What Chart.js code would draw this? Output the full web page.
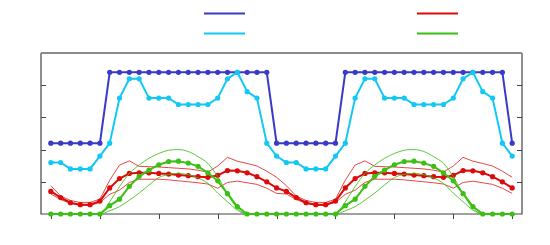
<!DOCTYPE html>
<html>
<head>
<meta charset="utf-8">
<script src="https://cdn.jsdelivr.net/npm/chart.js@4.4.0/dist/chart.umd.min.js"></script>
<style>
  html, body { margin: 0; padding: 0; background: #fff; }
  #wrap { width: 550px; height: 245px; position: relative; }
</style>
</head>
<body>
<div id="wrap"><canvas id="chart"></canvas></div>
<script>
// hours of two days
const hours = [1,2,3,4,5,6,7,8,9,10,11,12,13,14,15,16,17,18,19,20,21,22,23,24,
               25,26,27,28,29,30,31,32,33,34,35,36,37,38,39,40,41,42,43,44,45,46,47,48];
const xTicks = [1, 6, 12, 18, 24, 30, 36, 42, 48];
const yTicks = [1, 2, 3, 4];

const blueValues = [2.2,2.2,2.2,2.2,2.2,2.2,4.4,4.4,4.4,4.4,4.4,4.4,4.4,4.4,4.4,4.4,4.4,4.4,4.4,4.4,4.4,4.4,4.4,2.2,
                    2.2,2.2,2.2,2.2,2.2,2.2,4.4,4.4,4.4,4.4,4.4,4.4,4.4,4.4,4.4,4.4,4.4,4.4,4.4,4.4,4.4,4.4,4.4,2.2];
const cyanValues = [1.6,1.6,1.4,1.4,1.4,1.8,2.2,3.6,4.2,4.2,3.6,3.6,3.6,3.4,3.4,3.4,3.4,3.6,4.2,4.4,3.8,3.6,2.2,1.8,
                    1.6,1.6,1.4,1.4,1.4,1.8,2.2,3.6,4.2,4.2,3.6,3.6,3.6,3.4,3.4,3.4,3.4,3.6,4.2,4.4,3.8,3.6,2.2,1.8];
const redValues = [0.70,0.51,0.35,0.29,0.29,0.40,0.81,1.10,1.26,1.28,1.28,1.26,1.24,1.21,1.19,1.16,1.14,1.20,1.35,1.34,1.28,1.16,1.00,0.81,
                   0.70,0.51,0.35,0.29,0.29,0.40,0.81,1.10,1.26,1.28,1.28,1.26,1.24,1.21,1.19,1.16,1.14,1.20,1.35,1.34,1.28,1.16,1.00,0.81];
const redHigh = [0.88,0.56,0.42,0.36,0.36,0.46,1.05,1.52,1.65,1.48,1.47,1.46,1.44,1.42,1.40,1.36,1.30,1.49,1.76,1.64,1.57,1.49,1.33,1.14,
                 0.88,0.56,0.42,0.36,0.36,0.46,1.05,1.52,1.65,1.48,1.47,1.46,1.44,1.42,1.40,1.36,1.30,1.49,1.76,1.64,1.57,1.49,1.33,1.14];
const redLow = [0.62,0.45,0.33,0.27,0.27,0.36,0.61,0.74,0.98,1.08,1.08,1.08,1.06,1.03,1.00,0.97,0.93,0.80,0.98,1.02,0.97,0.92,0.80,0.64,
                0.62,0.45,0.33,0.27,0.27,0.36,0.61,0.74,0.98,1.08,1.08,1.08,1.06,1.03,1.00,0.97,0.93,0.80,0.98,1.02,0.97,0.92,0.80,0.64];
const greenValues = [0,0,0,0,0,0,0.26,0.46,0.86,1.17,1.36,1.53,1.63,1.64,1.58,1.48,1.28,1.03,0.63,0.23,0,0,0,0,
                     0,0,0,0,0,0,0.26,0.46,0.86,1.17,1.36,1.53,1.63,1.64,1.58,1.48,1.28,1.03,0.63,0.23,0,0,0,0];
const greenHigh = [0,0,0,0,0,0,0.38,0.85,1.26,1.52,1.73,1.88,1.98,2.00,1.94,1.78,1.57,1.16,0.62,0.18,0,0,0,0,
                   0,0,0,0,0,0,0.38,0.85,1.26,1.52,1.73,1.88,1.98,2.00,1.94,1.78,1.57,1.16,0.62,0.18,0,0,0,0];
const greenLow = [0,0,0,0,0,0,0.10,0.23,0.43,0.65,0.90,1.13,1.23,1.26,1.22,1.12,0.95,0.65,0.38,0.12,0,0,0,0,
                  0,0,0,0,0,0,0.10,0.23,0.43,0.65,0.90,1.13,1.23,1.26,1.22,1.12,0.95,0.65,0.38,0.12,0,0,0,0];

const BLUE = '#3a3ac8';
const CYAN = '#12c8f5';
const RED = '#dd0a0a';
const GREEN = '#3cbf14';

function pts(values) {
    return values.map((v, i) => ({ x: hours[i], y: v }));
}

function mainLine(label, values, color, order) {
    return {
        label: label,
        data: pts(values),
        borderColor: color,
        backgroundColor: color,
        borderWidth: 2,
        pointRadius: 2.6,
        pointBorderWidth: 0,
        pointBackgroundColor: color,
        tension: 0,
        clip: false,
        order: order
    };
}

function bandLine(values, color, order, tension) {
    return {
        label: '',
        data: pts(values),
        borderColor: color,
        borderWidth: 1,
        pointRadius: 0,
        tension: tension,
        cubicInterpolationMode: tension ? 'monotone' : 'default',
        clip: false,
        order: order,
        band: true
    };
}

// frame, inward y ticks, outward x ticks
const framePlugin = {
    id: 'frame',
    beforeDatasetsDraw(chart) {
        const ctx = chart.ctx;
        const a = chart.chartArea;
        const xs = chart.scales.x, ys = chart.scales.y;
        ctx.save();
        ctx.strokeStyle = '#444';
        ctx.lineWidth = 1.2;
        ctx.beginPath();
        ctx.moveTo(a.left, a.top); ctx.lineTo(a.left, a.bottom);
        ctx.lineTo(a.right, a.bottom); ctx.lineTo(a.right, a.top);
        ctx.stroke();
        ctx.strokeStyle = '#8a8a8a';
        ctx.lineWidth = 1.8;
        ctx.beginPath();
        ctx.moveTo(a.left, a.top); ctx.lineTo(a.right, a.top);
        ctx.stroke();

        ctx.strokeStyle = '#444';
        ctx.lineWidth = 1;
        ctx.beginPath();
        yTicks.forEach(v => {
            const y = Math.round(ys.getPixelForValue(v)) + 0.5;
            ctx.moveTo(a.left, y); ctx.lineTo(a.left + 5, y);
            ctx.moveTo(a.right, y); ctx.lineTo(a.right - 5, y);
        });
        xTicks.forEach(v => {
            const x = Math.round(xs.getPixelForValue(v)) + 0.5;
            ctx.moveTo(x, a.bottom); ctx.lineTo(x, a.bottom + 5);
        });
        ctx.stroke();
        ctx.restore();
    },
    afterDraw(chart) {
        // legend samples, two columns
        const ctx = chart.ctx;
        const items = [
            { c: BLUE, x: 204, y: 13.5 }, { c: RED, x: 417, y: 13.5 },
            { c: CYAN, x: 204, y: 33.5 }, { c: GREEN, x: 417, y: 33.5 }
        ];
        ctx.save();
        ctx.lineWidth = 2;
        items.forEach(it => {
            ctx.strokeStyle = it.c;
            ctx.beginPath();
            ctx.moveTo(it.x, it.y); ctx.lineTo(it.x + 41, it.y);
            ctx.stroke();
        });
        ctx.restore();
    }
};

const config = {
    type: 'line',
    data: {
        datasets: [
            mainLine('blue', blueValues, BLUE, 6),
            mainLine('cyan', cyanValues, CYAN, 5),
            bandLine(redHigh, 'rgba(221,10,10,0.75)', 4, 0),
            bandLine(redLow, 'rgba(221,10,10,0.75)', 4, 0),
            mainLine('red', redValues, RED, 3),
            bandLine(greenHigh, 'rgba(60,191,20,0.85)', 2, 0.4),
            bandLine(greenLow, 'rgba(60,191,20,0.85)', 2, 0.4),
            mainLine('green', greenValues, GREEN, 1)
        ]
    },
    options: {
        responsive: true,
        maintainAspectRatio: false,
        animation: false,
        layout: { padding: { left: 41, right: 28, top: 53, bottom: 31 } },
        plugins: {
            legend: { display: false },
            tooltip: { enabled: false }
        },
        scales: {
            x: { type: 'linear', min: 0, max: 49, display: false },
            y: { min: 0, max: 5, display: false }
        }
    },
    plugins: [framePlugin]
};

var ctx = document.getElementById('chart').getContext('2d');
var myChart = new Chart(ctx, config);
</script>
</body>
</html>
